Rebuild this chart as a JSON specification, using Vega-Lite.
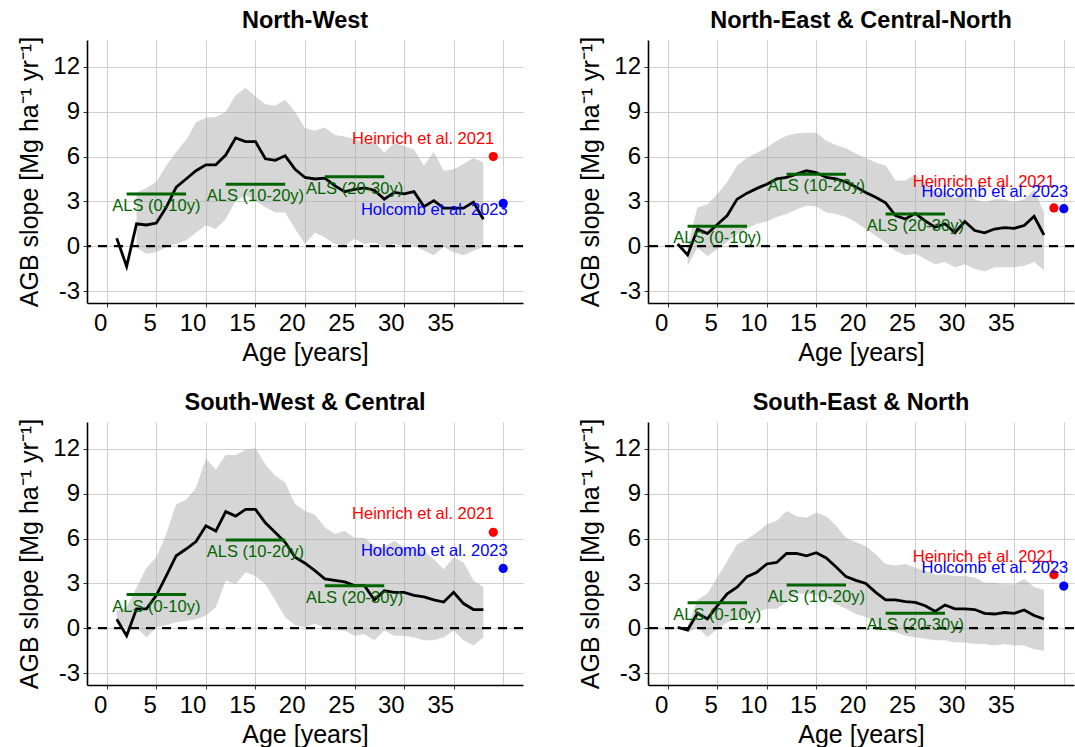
{
  "$schema": "https://vega.github.io/schema/vega-lite/v6.json",
  "background": "white",
  "padding": {"left": 17, "top": 8, "right": 0, "bottom": 0},
  "datasets": {
    "series": [
      {"region":"North-West","age":1,"mean":0.53,"lower":null,"upper":null},
      {"region":"North-West","age":2,"mean":-1.35,"lower":null,"upper":null},
      {"region":"North-West","age":3,"mean":1.5,"lower":-0.1,"upper":3.6},
      {"region":"North-West","age":4,"mean":1.42,"lower":-0.5,"upper":3.9},
      {"region":"North-West","age":5,"mean":1.55,"lower":-0.4,"upper":4.3},
      {"region":"North-West","age":6,"mean":2.6,"lower":-0.05,"upper":5.4},
      {"region":"North-West","age":7,"mean":3.95,"lower":0.15,"upper":6.3},
      {"region":"North-West","age":8,"mean":4.5,"lower":0.4,"upper":7.1},
      {"region":"North-West","age":9,"mean":5.05,"lower":0.9,"upper":8.3},
      {"region":"North-West","age":10,"mean":5.45,"lower":1.4,"upper":8.6},
      {"region":"North-West","age":11,"mean":5.45,"lower":1.15,"upper":8.65},
      {"region":"North-West","age":12,"mean":6.1,"lower":1.8,"upper":9.0},
      {"region":"North-West","age":13,"mean":7.25,"lower":3.05,"upper":10.1},
      {"region":"North-West","age":14,"mean":7.0,"lower":3.4,"upper":10.6},
      {"region":"North-West","age":15,"mean":7.0,"lower":3.05,"upper":10.0},
      {"region":"North-West","age":16,"mean":5.85,"lower":2.6,"upper":9.5},
      {"region":"North-West","age":17,"mean":5.75,"lower":2.25,"upper":9.4},
      {"region":"North-West","age":18,"mean":6.05,"lower":2.25,"upper":9.8},
      {"region":"North-West","age":19,"mean":5.15,"lower":1.15,"upper":9.0},
      {"region":"North-West","age":20,"mean":4.6,"lower":0.15,"upper":7.9},
      {"region":"North-West","age":21,"mean":4.5,"lower":0.9,"upper":7.75},
      {"region":"North-West","age":22,"mean":4.55,"lower":0.6,"upper":7.95},
      {"region":"North-West","age":23,"mean":4.05,"lower":0.15,"upper":7.45},
      {"region":"North-West","age":24,"mean":3.65,"lower":0.05,"upper":7.35},
      {"region":"North-West","age":25,"mean":3.8,"lower":0.5,"upper":7.15},
      {"region":"North-West","age":26,"mean":3.9,"lower":0.15,"upper":6.9},
      {"region":"North-West","age":27,"mean":3.75,"lower":0.25,"upper":7.0},
      {"region":"North-West","age":28,"mean":3.15,"lower":-0.05,"upper":6.25},
      {"region":"North-West","age":29,"mean":3.6,"lower":0.15,"upper":6.9},
      {"region":"North-West","age":30,"mean":3.5,"lower":-0.05,"upper":6.7},
      {"region":"North-West","age":31,"mean":3.65,"lower":0.05,"upper":6.45},
      {"region":"North-West","age":32,"mean":2.65,"lower":-0.3,"upper":5.4},
      {"region":"North-West","age":33,"mean":3.05,"lower":-0.6,"upper":6.3},
      {"region":"North-West","age":34,"mean":2.55,"lower":-0.05,"upper":5.05},
      {"region":"North-West","age":35,"mean":2.55,"lower":-0.4,"upper":5.15},
      {"region":"North-West","age":36,"mean":2.55,"lower":-0.6,"upper":5.5},
      {"region":"North-West","age":37,"mean":2.95,"lower":-0.3,"upper":5.9},
      {"region":"North-West","age":38,"mean":1.8,"lower":-0.05,"upper":5.6},

      {"region":"North-East & Central-North","age":1,"mean":0.15,"lower":null,"upper":null},
      {"region":"North-East & Central-North","age":2,"mean":-0.58,"lower":-1.3,"upper":0.0},
      {"region":"North-East & Central-North","age":3,"mean":1.15,"lower":-0.1,"upper":2.6},
      {"region":"North-East & Central-North","age":4,"mean":0.85,"lower":-0.65,"upper":2.8},
      {"region":"North-East & Central-North","age":5,"mean":1.45,"lower":-0.2,"upper":3.5},
      {"region":"North-East & Central-North","age":6,"mean":2.05,"lower":0.3,"upper":4.3},
      {"region":"North-East & Central-North","age":7,"mean":3.15,"lower":0.8,"upper":5.4},
      {"region":"North-East & Central-North","age":8,"mean":3.55,"lower":1.15,"upper":5.9},
      {"region":"North-East & Central-North","age":9,"mean":3.87,"lower":1.5,"upper":6.25},
      {"region":"North-East & Central-North","age":10,"mean":4.15,"lower":1.65,"upper":6.6},
      {"region":"North-East & Central-North","age":11,"mean":4.5,"lower":1.95,"upper":7.05},
      {"region":"North-East & Central-North","age":12,"mean":4.6,"lower":2.15,"upper":7.4},
      {"region":"North-East & Central-North","age":13,"mean":4.82,"lower":2.45,"upper":7.55},
      {"region":"North-East & Central-North","age":14,"mean":5.05,"lower":2.7,"upper":7.6},
      {"region":"North-East & Central-North","age":15,"mean":4.93,"lower":2.65,"upper":7.6},
      {"region":"North-East & Central-North","age":16,"mean":4.6,"lower":2.25,"upper":7.05},
      {"region":"North-East & Central-North","age":17,"mean":4.5,"lower":2.15,"upper":6.75},
      {"region":"North-East & Central-North","age":18,"mean":4.3,"lower":1.95,"upper":6.55},
      {"region":"North-East & Central-North","age":19,"mean":3.97,"lower":1.6,"upper":6.2},
      {"region":"North-East & Central-North","age":20,"mean":3.6,"lower":1.15,"upper":5.9},
      {"region":"North-East & Central-North","age":21,"mean":3.27,"lower":0.7,"upper":5.6},
      {"region":"North-East & Central-North","age":22,"mean":2.9,"lower":0.25,"upper":5.4},
      {"region":"North-East & Central-North","age":23,"mean":2.05,"lower":-0.3,"upper":4.4},
      {"region":"North-East & Central-North","age":24,"mean":1.82,"lower":-0.6,"upper":4.4},
      {"region":"North-East & Central-North","age":25,"mean":2.2,"lower":-0.5,"upper":4.8},
      {"region":"North-East & Central-North","age":26,"mean":1.7,"lower":-0.85,"upper":4.15},
      {"region":"North-East & Central-North","age":27,"mean":1.27,"lower":-1.2,"upper":3.65},
      {"region":"North-East & Central-North","age":28,"mean":1.5,"lower":-1.05,"upper":3.6},
      {"region":"North-East & Central-North","age":29,"mean":0.9,"lower":-1.4,"upper":3.2},
      {"region":"North-East & Central-North","age":30,"mean":1.65,"lower":-1.2,"upper":3.8},
      {"region":"North-East & Central-North","age":31,"mean":1.05,"lower":-1.5,"upper":3.15},
      {"region":"North-East & Central-North","age":32,"mean":0.9,"lower":-1.7,"upper":2.95},
      {"region":"North-East & Central-North","age":33,"mean":1.15,"lower":-1.4,"upper":3.15},
      {"region":"North-East & Central-North","age":34,"mean":1.25,"lower":-1.4,"upper":3.15},
      {"region":"North-East & Central-North","age":35,"mean":1.2,"lower":-1.4,"upper":2.95},
      {"region":"North-East & Central-North","age":36,"mean":1.38,"lower":-1.3,"upper":3.15},
      {"region":"North-East & Central-North","age":37,"mean":2.0,"lower":-1.05,"upper":3.8},
      {"region":"North-East & Central-North","age":38,"mean":0.75,"lower":-1.6,"upper":2.25},

      {"region":"South-West & Central","age":1,"mean":0.6,"lower":0.4,"upper":1.2},
      {"region":"South-West & Central","age":2,"mean":-0.5,"lower":0.0,"upper":1.4},
      {"region":"South-West & Central","age":3,"mean":1.3,"lower":0.05,"upper":2.7},
      {"region":"South-West & Central","age":4,"mean":1.3,"lower":-0.6,"upper":4.05},
      {"region":"South-West & Central","age":5,"mean":2.2,"lower":0.05,"upper":4.75},
      {"region":"South-West & Central","age":6,"mean":3.5,"lower":0.2,"upper":6.3},
      {"region":"South-West & Central","age":7,"mean":4.85,"lower":0.4,"upper":8.3},
      {"region":"South-West & Central","age":8,"mean":5.3,"lower":0.5,"upper":8.6},
      {"region":"South-West & Central","age":9,"mean":5.8,"lower":0.6,"upper":9.4},
      {"region":"South-West & Central","age":10,"mean":6.85,"lower":0.85,"upper":11.35},
      {"region":"South-West & Central","age":11,"mean":6.5,"lower":1.4,"upper":10.6},
      {"region":"South-West & Central","age":12,"mean":7.8,"lower":3.2,"upper":11.6},
      {"region":"South-West & Central","age":13,"mean":7.5,"lower":2.95,"upper":11.6},
      {"region":"South-West & Central","age":14,"mean":7.95,"lower":3.75,"upper":11.95},
      {"region":"South-West & Central","age":15,"mean":7.95,"lower":3.5,"upper":12.05},
      {"region":"South-West & Central","age":16,"mean":7.05,"lower":2.95,"upper":10.95},
      {"region":"South-West & Central","age":17,"mean":6.4,"lower":1.85,"upper":10.2},
      {"region":"South-West & Central","age":18,"mean":5.75,"lower":0.75,"upper":9.75},
      {"region":"South-West & Central","age":19,"mean":4.75,"lower":0.2,"upper":8.3},
      {"region":"South-West & Central","age":20,"mean":4.35,"lower":0.05,"upper":7.85},
      {"region":"South-West & Central","age":21,"mean":3.85,"lower":0.3,"upper":7.6},
      {"region":"South-West & Central","age":22,"mean":3.3,"lower":0.05,"upper":6.75},
      {"region":"South-West & Central","age":23,"mean":3.2,"lower":-0.15,"upper":6.3},
      {"region":"South-West & Central","age":24,"mean":3.1,"lower":-0.15,"upper":6.5},
      {"region":"South-West & Central","age":25,"mean":2.85,"lower":-0.5,"upper":6.05},
      {"region":"South-West & Central","age":26,"mean":2.85,"lower":-0.4,"upper":6.05},
      {"region":"South-West & Central","age":27,"mean":1.9,"lower":-0.8,"upper":5.5},
      {"region":"South-West & Central","age":28,"mean":2.5,"lower":-0.15,"upper":5.4},
      {"region":"South-West & Central","age":29,"mean":2.4,"lower":-0.5,"upper":5.85},
      {"region":"South-West & Central","age":30,"mean":2.4,"lower":-0.5,"upper":5.4},
      {"region":"South-West & Central","age":31,"mean":2.2,"lower":-0.6,"upper":5.3},
      {"region":"South-West & Central","age":32,"mean":2.1,"lower":-0.8,"upper":5.2},
      {"region":"South-West & Central","age":33,"mean":1.9,"lower":-0.8,"upper":4.6},
      {"region":"South-West & Central","age":34,"mean":1.75,"lower":-0.6,"upper":3.95},
      {"region":"South-West & Central","age":35,"mean":2.4,"lower":-0.15,"upper":4.75},
      {"region":"South-West & Central","age":36,"mean":1.65,"lower":-0.8,"upper":4.4},
      {"region":"South-West & Central","age":37,"mean":1.25,"lower":-1.15,"upper":3.2},
      {"region":"South-West & Central","age":38,"mean":1.25,"lower":-0.6,"upper":2.75},

      {"region":"South-East & North","age":1,"mean":0.05,"lower":null,"upper":null},
      {"region":"South-East & North","age":2,"mean":-0.12,"lower":-0.3,"upper":0.1},
      {"region":"South-East & North","age":3,"mean":1.0,"lower":0.05,"upper":1.9},
      {"region":"South-East & North","age":4,"mean":0.62,"lower":-0.6,"upper":2.3},
      {"region":"South-East & North","age":5,"mean":1.5,"lower":-0.05,"upper":3.4},
      {"region":"South-East & North","age":6,"mean":2.3,"lower":0.4,"upper":4.5},
      {"region":"South-East & North","age":7,"mean":2.75,"lower":0.6,"upper":5.6},
      {"region":"South-East & North","age":8,"mean":3.45,"lower":0.85,"upper":5.95},
      {"region":"South-East & North","age":9,"mean":3.75,"lower":1.05,"upper":6.4},
      {"region":"South-East & North","age":10,"mean":4.3,"lower":1.3,"upper":6.95},
      {"region":"South-East & North","age":11,"mean":4.4,"lower":1.3,"upper":7.2},
      {"region":"South-East & North","age":12,"mean":5.0,"lower":1.75,"upper":7.85},
      {"region":"South-East & North","age":13,"mean":5.0,"lower":2.3,"upper":7.5},
      {"region":"South-East & North","age":14,"mean":4.85,"lower":2.3,"upper":7.4},
      {"region":"South-East & North","age":15,"mean":5.05,"lower":2.2,"upper":7.75},
      {"region":"South-East & North","age":16,"mean":4.7,"lower":2.05,"upper":7.5},
      {"region":"South-East & North","age":17,"mean":4.1,"lower":1.6,"upper":6.85},
      {"region":"South-East & North","age":18,"mean":3.45,"lower":1.3,"upper":6.05},
      {"region":"South-East & North","age":19,"mean":3.2,"lower":0.95,"upper":5.75},
      {"region":"South-East & North","age":20,"mean":3.0,"lower":0.75,"upper":5.5},
      {"region":"South-East & North","age":21,"mean":2.4,"lower":0.4,"upper":4.95},
      {"region":"South-East & North","age":22,"mean":1.9,"lower":-0.15,"upper":4.3},
      {"region":"South-East & North","age":23,"mean":1.9,"lower":-0.25,"upper":4.2},
      {"region":"South-East & North","age":24,"mean":1.78,"lower":-0.5,"upper":4.3},
      {"region":"South-East & North","age":25,"mean":1.73,"lower":-0.6,"upper":4.05},
      {"region":"South-East & North","age":26,"mean":1.5,"lower":-0.7,"upper":3.85},
      {"region":"South-East & North","age":27,"mean":1.13,"lower":-0.8,"upper":3.6},
      {"region":"South-East & North","age":28,"mean":1.55,"lower":-0.8,"upper":3.6},
      {"region":"South-East & North","age":29,"mean":1.3,"lower":-0.95,"upper":3.5},
      {"region":"South-East & North","age":30,"mean":1.3,"lower":-0.95,"upper":3.5},
      {"region":"South-East & North","age":31,"mean":1.25,"lower":-1.05,"upper":3.4},
      {"region":"South-East & North","age":32,"mean":1.0,"lower":-1.05,"upper":3.05},
      {"region":"South-East & North","age":33,"mean":0.95,"lower":-1.15,"upper":3.05},
      {"region":"South-East & North","age":34,"mean":1.05,"lower":-1.05,"upper":2.95},
      {"region":"South-East & North","age":35,"mean":1.0,"lower":-1.15,"upper":2.95},
      {"region":"South-East & North","age":36,"mean":1.22,"lower":-1.15,"upper":3.3},
      {"region":"South-East & North","age":37,"mean":0.85,"lower":-1.4,"upper":2.75},
      {"region":"South-East & North","age":38,"mean":0.62,"lower":-1.5,"upper":2.55}
    ],
    "als": [
      {"region":"North-West","label":"ALS (0-10y)","start":2,"end":8,"mid":5,"value":3.5},
      {"region":"North-West","label":"ALS (10-20y)","start":12,"end":18,"mid":15,"value":4.15},
      {"region":"North-West","label":"ALS (20-30y)","start":22,"end":28,"mid":25,"value":4.65},
      {"region":"North-East & Central-North","label":"ALS (0-10y)","start":2,"end":8,"mid":5,"value":1.33},
      {"region":"North-East & Central-North","label":"ALS (10-20y)","start":12,"end":18,"mid":15,"value":4.82},
      {"region":"North-East & Central-North","label":"ALS (20-30y)","start":22,"end":28,"mid":25,"value":2.15},
      {"region":"South-West & Central","label":"ALS (0-10y)","start":2,"end":8,"mid":5,"value":2.25},
      {"region":"South-West & Central","label":"ALS (10-20y)","start":12,"end":18,"mid":15,"value":5.9},
      {"region":"South-West & Central","label":"ALS (20-30y)","start":22,"end":28,"mid":25,"value":2.85},
      {"region":"South-East & North","label":"ALS (0-10y)","start":2,"end":8,"mid":5,"value":1.7},
      {"region":"South-East & North","label":"ALS (10-20y)","start":12,"end":18,"mid":15,"value":2.9},
      {"region":"South-East & North","label":"ALS (20-30y)","start":22,"end":28,"mid":25,"value":1.0}
    ],
    "refs": [
      {"region":"North-West","source":"Heinrich et al. 2021","x":39,"value":6.0,"label_y":7.2},
      {"region":"North-West","source":"Holcomb et al. 2023","x":40,"value":2.87,"label_y":2.42},
      {"region":"North-East & Central-North","source":"Heinrich et al. 2021","x":39,"value":2.56,"label_y":4.27},
      {"region":"North-East & Central-North","source":"Holcomb et al. 2023","x":40,"value":2.51,"label_y":3.64},
      {"region":"South-West & Central","source":"Heinrich et al. 2021","x":39,"value":6.42,"label_y":7.62},
      {"region":"South-West & Central","source":"Holcomb et al. 2023","x":40,"value":4.0,"label_y":5.17},
      {"region":"South-East & North","source":"Heinrich et al. 2021","x":39,"value":3.58,"label_y":4.77},
      {"region":"South-East & North","source":"Holcomb et al. 2023","x":40,"value":2.82,"label_y":4.02}
    ]
  },
  "columns": 2,
  "bounds": "flush",
  "spacing": {"row": 119, "column": 125},
  "concat": [
    {
      "width": 436, "height": 263,
      "title": {"text": "North-West", "font": "Liberation Sans", "fontSize": 23.5, "fontWeight": "bold", "anchor": "middle", "frame": "group", "baseline": "alphabetic", "offset": -15, "color": "black"},
      "layer": [
        {"data": {"name": "series"}, "transform": [{"filter": "datum.region === 'North-West'"}],
         "mark": {"type": "area", "color": "#a3a3a3", "opacity": 0.45},
         "encoding": {
           "x": {"field": "age", "type": "quantitative", "scale": {"domain": [-2, 42]}, "title": "Age [years]",
                 "axis": {"values": [0,2.5,5,7.5,10,12.5,15,17.5,20,22.5,25,27.5,30,32.5,35,37.5,40], "labelExpr": "datum.value % 5 === 0 && datum.value <= 35 ? toString(datum.value) : ''", "labelAlign": "right", "labelFlush": false, "labelOverlap": false, "tickOpacity": {"condition": {"test": "datum.value % 5 === 0 && datum.value <= 35", "value": 1}, "value": 0}}},
           "y": {"field": "upper", "type": "quantitative", "scale": {"domain": [-3.8, 13.8]}, "title": "AGB slope [Mg ha\u207b\u00b9 yr\u207b\u00b9]",
                 "axis": {"values": [-3,-1.5,0,1.5,3,4.5,6,7.5,9,10.5,12,13.5], "labelExpr": "datum.value % 3 === 0 ? toString(datum.value) : ''", "labelFlush": false, "labelOverlap": false, "tickOpacity": {"condition": {"test": "datum.value % 3 === 0", "value": 1}, "value": 0}}},
           "y2": {"field": "lower"}
         }},
        {"data": {"values": [{}]}, "mark": {"type": "rule", "color": "black", "strokeWidth": 2.2, "strokeDash": [9, 7]},
         "encoding": {"y": {"datum": 0, "type": "quantitative", "scale": {"domain": [-3.8, 13.8]}, "title": "AGB slope [Mg ha\u207b\u00b9 yr\u207b\u00b9]"}}},
        {"data": {"name": "series"}, "transform": [{"filter": "datum.region === 'North-West'"}],
         "mark": {"type": "line", "color": "black", "strokeWidth": 2.8},
         "encoding": {
           "x": {"field": "age", "type": "quantitative", "scale": {"domain": [-2, 42]}, "title": "Age [years]"},
           "y": {"field": "mean", "type": "quantitative", "scale": {"domain": [-3.8, 13.8]}, "title": "AGB slope [Mg ha\u207b\u00b9 yr\u207b\u00b9]"}
         }},
        {"data": {"name": "als"}, "transform": [{"filter": "datum.region === 'North-West'"}],
         "mark": {"type": "rule", "color": "#006400", "strokeWidth": 3},
         "encoding": {
           "x": {"field": "start", "type": "quantitative", "scale": {"domain": [-2, 42]}, "title": "Age [years]"},
           "x2": {"field": "end"},
           "y": {"field": "value", "type": "quantitative", "scale": {"domain": [-3.8, 13.8]}, "title": "AGB slope [Mg ha\u207b\u00b9 yr\u207b\u00b9]"}
         }},
        {"data": {"name": "als"}, "transform": [{"filter": "datum.region === 'North-West'"}],
         "mark": {"type": "text", "color": "#006400", "fontSize": 16.5, "font": "Liberation Sans", "align": "center", "baseline": "middle", "dy": 12},
         "encoding": {
           "x": {"field": "mid", "type": "quantitative", "scale": {"domain": [-2, 42]}, "title": "Age [years]"},
           "y": {"field": "value", "type": "quantitative", "scale": {"domain": [-3.8, 13.8]}, "title": "AGB slope [Mg ha\u207b\u00b9 yr\u207b\u00b9]"},
           "text": {"field": "label"}
         }},
        {"data": {"name": "refs"}, "transform": [{"filter": "datum.region === 'North-West'"}],
         "mark": {"type": "circle", "size": 85, "opacity": 1},
         "encoding": {
           "x": {"field": "x", "type": "quantitative", "scale": {"domain": [-2, 42]}, "title": "Age [years]"},
           "y": {"field": "value", "type": "quantitative", "scale": {"domain": [-3.8, 13.8]}, "title": "AGB slope [Mg ha\u207b\u00b9 yr\u207b\u00b9]"},
           "color": {"field": "source", "type": "nominal", "scale": {"domain": ["Heinrich et al. 2021", "Holcomb et al. 2023"], "range": ["#ff0000", "#0000ff"]}, "legend": null}
         }},
        {"data": {"name": "refs"}, "transform": [{"filter": "datum.region === 'North-West' && datum.source === 'Heinrich et al. 2021'"}],
         "mark": {"type": "text", "color": "#ff0000", "fontSize": 16.5, "font": "Liberation Sans", "align": "right", "baseline": "middle", "dx": 1},
         "encoding": {
           "x": {"field": "x", "type": "quantitative", "scale": {"domain": [-2, 42]}, "title": "Age [years]"},
           "y": {"field": "label_y", "type": "quantitative", "scale": {"domain": [-3.8, 13.8]}, "title": "AGB slope [Mg ha\u207b\u00b9 yr\u207b\u00b9]"},
           "text": {"field": "source"}
         }},
        {"data": {"name": "refs"}, "transform": [{"filter": "datum.region === 'North-West' && datum.source === 'Holcomb et al. 2023'"}],
         "mark": {"type": "text", "color": "#0000ff", "fontSize": 16.5, "font": "Liberation Sans", "align": "right", "baseline": "middle", "dx": 4.5},
         "encoding": {
           "x": {"field": "x", "type": "quantitative", "scale": {"domain": [-2, 42]}, "title": "Age [years]"},
           "y": {"field": "label_y", "type": "quantitative", "scale": {"domain": [-3.8, 13.8]}, "title": "AGB slope [Mg ha\u207b\u00b9 yr\u207b\u00b9]"},
           "text": {"field": "source"}
         }}
      ]
    },
    {
      "width": 426, "height": 263,
      "title": {"text": "North-East & Central-North", "font": "Liberation Sans", "fontSize": 23.5, "fontWeight": "bold", "anchor": "middle", "frame": "group", "baseline": "alphabetic", "offset": -15, "color": "black"},
      "layer": [
        {"data": {"name": "series"}, "transform": [{"filter": "datum.region === 'North-East & Central-North'"}],
         "mark": {"type": "area", "color": "#a3a3a3", "opacity": 0.45},
         "encoding": {
           "x": {"field": "age", "type": "quantitative", "scale": {"domain": [-2, 41.03]}, "title": "Age [years]",
                 "axis": {"values": [0,2.5,5,7.5,10,12.5,15,17.5,20,22.5,25,27.5,30,32.5,35,37.5,40], "labelExpr": "datum.value % 5 === 0 && datum.value <= 35 ? toString(datum.value) : ''", "labelAlign": "right", "labelFlush": false, "labelOverlap": false, "tickOpacity": {"condition": {"test": "datum.value % 5 === 0 && datum.value <= 35", "value": 1}, "value": 0}}},
           "y": {"field": "upper", "type": "quantitative", "scale": {"domain": [-3.8, 13.8]}, "title": "AGB slope [Mg ha\u207b\u00b9 yr\u207b\u00b9]",
                 "axis": {"values": [-3,-1.5,0,1.5,3,4.5,6,7.5,9,10.5,12,13.5], "labelExpr": "datum.value % 3 === 0 ? toString(datum.value) : ''", "labelFlush": false, "labelOverlap": false, "tickOpacity": {"condition": {"test": "datum.value % 3 === 0", "value": 1}, "value": 0}}},
           "y2": {"field": "lower"}
         }},
        {"data": {"values": [{}]}, "mark": {"type": "rule", "color": "black", "strokeWidth": 2.2, "strokeDash": [9, 7]},
         "encoding": {"y": {"datum": 0, "type": "quantitative", "scale": {"domain": [-3.8, 13.8]}, "title": "AGB slope [Mg ha\u207b\u00b9 yr\u207b\u00b9]"}}},
        {"data": {"name": "series"}, "transform": [{"filter": "datum.region === 'North-East & Central-North'"}],
         "mark": {"type": "line", "color": "black", "strokeWidth": 2.8},
         "encoding": {
           "x": {"field": "age", "type": "quantitative", "scale": {"domain": [-2, 41.03]}, "title": "Age [years]"},
           "y": {"field": "mean", "type": "quantitative", "scale": {"domain": [-3.8, 13.8]}, "title": "AGB slope [Mg ha\u207b\u00b9 yr\u207b\u00b9]"}
         }},
        {"data": {"name": "als"}, "transform": [{"filter": "datum.region === 'North-East & Central-North'"}],
         "mark": {"type": "rule", "color": "#006400", "strokeWidth": 3},
         "encoding": {
           "x": {"field": "start", "type": "quantitative", "scale": {"domain": [-2, 41.03]}, "title": "Age [years]"},
           "x2": {"field": "end"},
           "y": {"field": "value", "type": "quantitative", "scale": {"domain": [-3.8, 13.8]}, "title": "AGB slope [Mg ha\u207b\u00b9 yr\u207b\u00b9]"}
         }},
        {"data": {"name": "als"}, "transform": [{"filter": "datum.region === 'North-East & Central-North'"}],
         "mark": {"type": "text", "color": "#006400", "fontSize": 16.5, "font": "Liberation Sans", "align": "center", "baseline": "middle", "dy": 12},
         "encoding": {
           "x": {"field": "mid", "type": "quantitative", "scale": {"domain": [-2, 41.03]}, "title": "Age [years]"},
           "y": {"field": "value", "type": "quantitative", "scale": {"domain": [-3.8, 13.8]}, "title": "AGB slope [Mg ha\u207b\u00b9 yr\u207b\u00b9]"},
           "text": {"field": "label"}
         }},
        {"data": {"name": "refs"}, "transform": [{"filter": "datum.region === 'North-East & Central-North'"}],
         "mark": {"type": "circle", "size": 85, "opacity": 1},
         "encoding": {
           "x": {"field": "x", "type": "quantitative", "scale": {"domain": [-2, 41.03]}, "title": "Age [years]"},
           "y": {"field": "value", "type": "quantitative", "scale": {"domain": [-3.8, 13.8]}, "title": "AGB slope [Mg ha\u207b\u00b9 yr\u207b\u00b9]"},
           "color": {"field": "source", "type": "nominal", "scale": {"domain": ["Heinrich et al. 2021", "Holcomb et al. 2023"], "range": ["#ff0000", "#0000ff"]}, "legend": null}
         }},
        {"data": {"name": "refs"}, "transform": [{"filter": "datum.region === 'North-East & Central-North' && datum.source === 'Heinrich et al. 2021'"}],
         "mark": {"type": "text", "color": "#ff0000", "fontSize": 16.5, "font": "Liberation Sans", "align": "right", "baseline": "middle", "dx": 1},
         "encoding": {
           "x": {"field": "x", "type": "quantitative", "scale": {"domain": [-2, 41.03]}, "title": "Age [years]"},
           "y": {"field": "label_y", "type": "quantitative", "scale": {"domain": [-3.8, 13.8]}, "title": "AGB slope [Mg ha\u207b\u00b9 yr\u207b\u00b9]"},
           "text": {"field": "source"}
         }},
        {"data": {"name": "refs"}, "transform": [{"filter": "datum.region === 'North-East & Central-North' && datum.source === 'Holcomb et al. 2023'"}],
         "mark": {"type": "text", "color": "#0000ff", "fontSize": 16.5, "font": "Liberation Sans", "align": "right", "baseline": "middle", "dx": 4.5},
         "encoding": {
           "x": {"field": "x", "type": "quantitative", "scale": {"domain": [-2, 41.03]}, "title": "Age [years]"},
           "y": {"field": "label_y", "type": "quantitative", "scale": {"domain": [-3.8, 13.8]}, "title": "AGB slope [Mg ha\u207b\u00b9 yr\u207b\u00b9]"},
           "text": {"field": "source"}
         }}
      ]
    },
    {
      "width": 436, "height": 263,
      "title": {"text": "South-West & Central", "font": "Liberation Sans", "fontSize": 23.5, "fontWeight": "bold", "anchor": "middle", "frame": "group", "baseline": "alphabetic", "offset": -15, "color": "black"},
      "layer": [
        {"data": {"name": "series"}, "transform": [{"filter": "datum.region === 'South-West & Central'"}],
         "mark": {"type": "area", "color": "#a3a3a3", "opacity": 0.45},
         "encoding": {
           "x": {"field": "age", "type": "quantitative", "scale": {"domain": [-2, 42]}, "title": "Age [years]",
                 "axis": {"values": [0,2.5,5,7.5,10,12.5,15,17.5,20,22.5,25,27.5,30,32.5,35,37.5,40], "labelExpr": "datum.value % 5 === 0 && datum.value <= 35 ? toString(datum.value) : ''", "labelAlign": "right", "labelFlush": false, "labelOverlap": false, "tickOpacity": {"condition": {"test": "datum.value % 5 === 0 && datum.value <= 35", "value": 1}, "value": 0}}},
           "y": {"field": "upper", "type": "quantitative", "scale": {"domain": [-3.8, 13.8]}, "title": "AGB slope [Mg ha\u207b\u00b9 yr\u207b\u00b9]",
                 "axis": {"values": [-3,-1.5,0,1.5,3,4.5,6,7.5,9,10.5,12,13.5], "labelExpr": "datum.value % 3 === 0 ? toString(datum.value) : ''", "labelFlush": false, "labelOverlap": false, "tickOpacity": {"condition": {"test": "datum.value % 3 === 0", "value": 1}, "value": 0}}},
           "y2": {"field": "lower"}
         }},
        {"data": {"values": [{}]}, "mark": {"type": "rule", "color": "black", "strokeWidth": 2.2, "strokeDash": [9, 7]},
         "encoding": {"y": {"datum": 0, "type": "quantitative", "scale": {"domain": [-3.8, 13.8]}, "title": "AGB slope [Mg ha\u207b\u00b9 yr\u207b\u00b9]"}}},
        {"data": {"name": "series"}, "transform": [{"filter": "datum.region === 'South-West & Central'"}],
         "mark": {"type": "line", "color": "black", "strokeWidth": 2.8},
         "encoding": {
           "x": {"field": "age", "type": "quantitative", "scale": {"domain": [-2, 42]}, "title": "Age [years]"},
           "y": {"field": "mean", "type": "quantitative", "scale": {"domain": [-3.8, 13.8]}, "title": "AGB slope [Mg ha\u207b\u00b9 yr\u207b\u00b9]"}
         }},
        {"data": {"name": "als"}, "transform": [{"filter": "datum.region === 'South-West & Central'"}],
         "mark": {"type": "rule", "color": "#006400", "strokeWidth": 3},
         "encoding": {
           "x": {"field": "start", "type": "quantitative", "scale": {"domain": [-2, 42]}, "title": "Age [years]"},
           "x2": {"field": "end"},
           "y": {"field": "value", "type": "quantitative", "scale": {"domain": [-3.8, 13.8]}, "title": "AGB slope [Mg ha\u207b\u00b9 yr\u207b\u00b9]"}
         }},
        {"data": {"name": "als"}, "transform": [{"filter": "datum.region === 'South-West & Central'"}],
         "mark": {"type": "text", "color": "#006400", "fontSize": 16.5, "font": "Liberation Sans", "align": "center", "baseline": "middle", "dy": 12},
         "encoding": {
           "x": {"field": "mid", "type": "quantitative", "scale": {"domain": [-2, 42]}, "title": "Age [years]"},
           "y": {"field": "value", "type": "quantitative", "scale": {"domain": [-3.8, 13.8]}, "title": "AGB slope [Mg ha\u207b\u00b9 yr\u207b\u00b9]"},
           "text": {"field": "label"}
         }},
        {"data": {"name": "refs"}, "transform": [{"filter": "datum.region === 'South-West & Central'"}],
         "mark": {"type": "circle", "size": 85, "opacity": 1},
         "encoding": {
           "x": {"field": "x", "type": "quantitative", "scale": {"domain": [-2, 42]}, "title": "Age [years]"},
           "y": {"field": "value", "type": "quantitative", "scale": {"domain": [-3.8, 13.8]}, "title": "AGB slope [Mg ha\u207b\u00b9 yr\u207b\u00b9]"},
           "color": {"field": "source", "type": "nominal", "scale": {"domain": ["Heinrich et al. 2021", "Holcomb et al. 2023"], "range": ["#ff0000", "#0000ff"]}, "legend": null}
         }},
        {"data": {"name": "refs"}, "transform": [{"filter": "datum.region === 'South-West & Central' && datum.source === 'Heinrich et al. 2021'"}],
         "mark": {"type": "text", "color": "#ff0000", "fontSize": 16.5, "font": "Liberation Sans", "align": "right", "baseline": "middle", "dx": 1},
         "encoding": {
           "x": {"field": "x", "type": "quantitative", "scale": {"domain": [-2, 42]}, "title": "Age [years]"},
           "y": {"field": "label_y", "type": "quantitative", "scale": {"domain": [-3.8, 13.8]}, "title": "AGB slope [Mg ha\u207b\u00b9 yr\u207b\u00b9]"},
           "text": {"field": "source"}
         }},
        {"data": {"name": "refs"}, "transform": [{"filter": "datum.region === 'South-West & Central' && datum.source === 'Holcomb et al. 2023'"}],
         "mark": {"type": "text", "color": "#0000ff", "fontSize": 16.5, "font": "Liberation Sans", "align": "right", "baseline": "middle", "dx": 4.5},
         "encoding": {
           "x": {"field": "x", "type": "quantitative", "scale": {"domain": [-2, 42]}, "title": "Age [years]"},
           "y": {"field": "label_y", "type": "quantitative", "scale": {"domain": [-3.8, 13.8]}, "title": "AGB slope [Mg ha\u207b\u00b9 yr\u207b\u00b9]"},
           "text": {"field": "source"}
         }}
      ]
    },
    {
      "width": 426, "height": 263,
      "title": {"text": "South-East & North", "font": "Liberation Sans", "fontSize": 23.5, "fontWeight": "bold", "anchor": "middle", "frame": "group", "baseline": "alphabetic", "offset": -15, "color": "black"},
      "layer": [
        {"data": {"name": "series"}, "transform": [{"filter": "datum.region === 'South-East & North'"}],
         "mark": {"type": "area", "color": "#a3a3a3", "opacity": 0.45},
         "encoding": {
           "x": {"field": "age", "type": "quantitative", "scale": {"domain": [-2, 41.03]}, "title": "Age [years]",
                 "axis": {"values": [0,2.5,5,7.5,10,12.5,15,17.5,20,22.5,25,27.5,30,32.5,35,37.5,40], "labelExpr": "datum.value % 5 === 0 && datum.value <= 35 ? toString(datum.value) : ''", "labelAlign": "right", "labelFlush": false, "labelOverlap": false, "tickOpacity": {"condition": {"test": "datum.value % 5 === 0 && datum.value <= 35", "value": 1}, "value": 0}}},
           "y": {"field": "upper", "type": "quantitative", "scale": {"domain": [-3.8, 13.8]}, "title": "AGB slope [Mg ha\u207b\u00b9 yr\u207b\u00b9]",
                 "axis": {"values": [-3,-1.5,0,1.5,3,4.5,6,7.5,9,10.5,12,13.5], "labelExpr": "datum.value % 3 === 0 ? toString(datum.value) : ''", "labelFlush": false, "labelOverlap": false, "tickOpacity": {"condition": {"test": "datum.value % 3 === 0", "value": 1}, "value": 0}}},
           "y2": {"field": "lower"}
         }},
        {"data": {"values": [{}]}, "mark": {"type": "rule", "color": "black", "strokeWidth": 2.2, "strokeDash": [9, 7]},
         "encoding": {"y": {"datum": 0, "type": "quantitative", "scale": {"domain": [-3.8, 13.8]}, "title": "AGB slope [Mg ha\u207b\u00b9 yr\u207b\u00b9]"}}},
        {"data": {"name": "series"}, "transform": [{"filter": "datum.region === 'South-East & North'"}],
         "mark": {"type": "line", "color": "black", "strokeWidth": 2.8},
         "encoding": {
           "x": {"field": "age", "type": "quantitative", "scale": {"domain": [-2, 41.03]}, "title": "Age [years]"},
           "y": {"field": "mean", "type": "quantitative", "scale": {"domain": [-3.8, 13.8]}, "title": "AGB slope [Mg ha\u207b\u00b9 yr\u207b\u00b9]"}
         }},
        {"data": {"name": "als"}, "transform": [{"filter": "datum.region === 'South-East & North'"}],
         "mark": {"type": "rule", "color": "#006400", "strokeWidth": 3},
         "encoding": {
           "x": {"field": "start", "type": "quantitative", "scale": {"domain": [-2, 41.03]}, "title": "Age [years]"},
           "x2": {"field": "end"},
           "y": {"field": "value", "type": "quantitative", "scale": {"domain": [-3.8, 13.8]}, "title": "AGB slope [Mg ha\u207b\u00b9 yr\u207b\u00b9]"}
         }},
        {"data": {"name": "als"}, "transform": [{"filter": "datum.region === 'South-East & North'"}],
         "mark": {"type": "text", "color": "#006400", "fontSize": 16.5, "font": "Liberation Sans", "align": "center", "baseline": "middle", "dy": 12},
         "encoding": {
           "x": {"field": "mid", "type": "quantitative", "scale": {"domain": [-2, 41.03]}, "title": "Age [years]"},
           "y": {"field": "value", "type": "quantitative", "scale": {"domain": [-3.8, 13.8]}, "title": "AGB slope [Mg ha\u207b\u00b9 yr\u207b\u00b9]"},
           "text": {"field": "label"}
         }},
        {"data": {"name": "refs"}, "transform": [{"filter": "datum.region === 'South-East & North'"}],
         "mark": {"type": "circle", "size": 85, "opacity": 1},
         "encoding": {
           "x": {"field": "x", "type": "quantitative", "scale": {"domain": [-2, 41.03]}, "title": "Age [years]"},
           "y": {"field": "value", "type": "quantitative", "scale": {"domain": [-3.8, 13.8]}, "title": "AGB slope [Mg ha\u207b\u00b9 yr\u207b\u00b9]"},
           "color": {"field": "source", "type": "nominal", "scale": {"domain": ["Heinrich et al. 2021", "Holcomb et al. 2023"], "range": ["#ff0000", "#0000ff"]}, "legend": null}
         }},
        {"data": {"name": "refs"}, "transform": [{"filter": "datum.region === 'South-East & North' && datum.source === 'Heinrich et al. 2021'"}],
         "mark": {"type": "text", "color": "#ff0000", "fontSize": 16.5, "font": "Liberation Sans", "align": "right", "baseline": "middle", "dx": 1},
         "encoding": {
           "x": {"field": "x", "type": "quantitative", "scale": {"domain": [-2, 41.03]}, "title": "Age [years]"},
           "y": {"field": "label_y", "type": "quantitative", "scale": {"domain": [-3.8, 13.8]}, "title": "AGB slope [Mg ha\u207b\u00b9 yr\u207b\u00b9]"},
           "text": {"field": "source"}
         }},
        {"data": {"name": "refs"}, "transform": [{"filter": "datum.region === 'South-East & North' && datum.source === 'Holcomb et al. 2023'"}],
         "mark": {"type": "text", "color": "#0000ff", "fontSize": 16.5, "font": "Liberation Sans", "align": "right", "baseline": "middle", "dx": 4.5},
         "encoding": {
           "x": {"field": "x", "type": "quantitative", "scale": {"domain": [-2, 41.03]}, "title": "Age [years]"},
           "y": {"field": "label_y", "type": "quantitative", "scale": {"domain": [-3.8, 13.8]}, "title": "AGB slope [Mg ha\u207b\u00b9 yr\u207b\u00b9]"},
           "text": {"field": "source"}
         }}
      ]
    }
  ],
  "config": {
    "view": {"stroke": null},
    "font": "Liberation Sans",
    "axis": {
      "domainColor": "black", "domainWidth": 1.6,
      "tickColor": "#333333", "tickSize": 4, "tickWidth": 1,
      "gridColor": "#cfcfcf", "gridWidth": 1,
      "labelFont": "Liberation Sans", "labelFontSize": 24, "labelColor": "black",
      "titleFont": "Liberation Sans", "titleFontSize": 25, "titleFontWeight": "normal", "titleColor": "black"
    },
    "axisX": {"labelPadding": 4, "titlePadding": 5},
    "axisY": {"labelPadding": 3.5, "titlePadding": 10}
  }
}
